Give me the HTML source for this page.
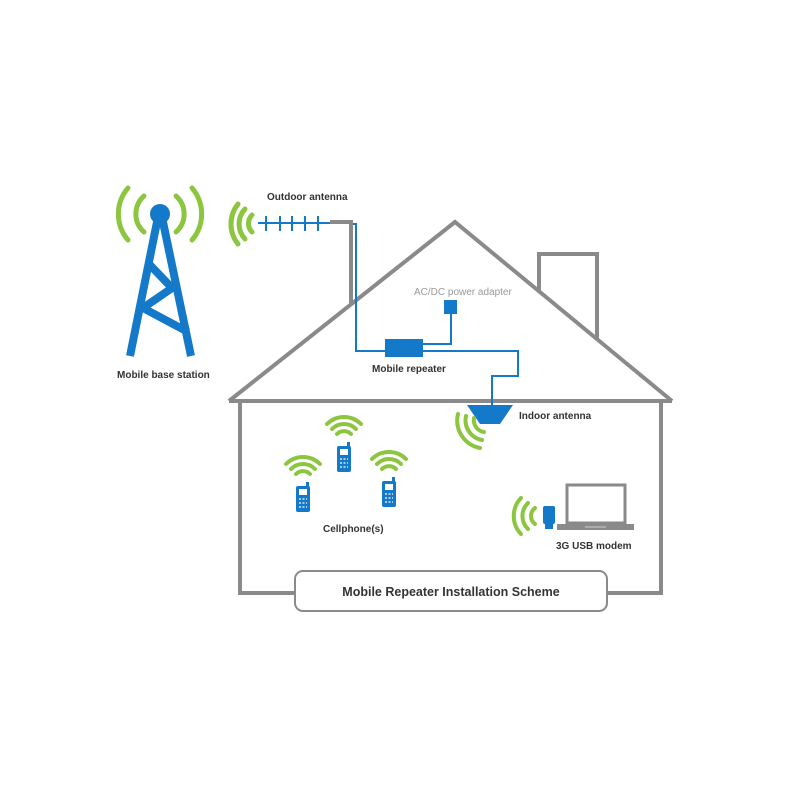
<!DOCTYPE html>
<html><head><style>
html,body{margin:0;padding:0;background:#fff;}
svg{display:block;font-family:"Liberation Sans",sans-serif;}
</style></head><body>
<svg width="800" height="800" viewBox="0 0 800 800" xmlns="http://www.w3.org/2000/svg">
<rect width="800" height="800" fill="#fff"/>
<!-- House -->
<g stroke="#8a8a8a" stroke-width="4" fill="none">
<polyline points="229,401 455,222 672,401"/>
<line x1="229" y1="401" x2="672" y2="401"/>
<polyline points="240,401 240,593 295,593"/>
<polyline points="607,593 661,593 661,401"/>
<polyline points="539,290 539,254 597,254 597,338"/>
<polyline points="330,222 351,222 351,303"/>
</g>
<!-- Tower -->
<g fill="none" stroke="#1479c9" stroke-width="8" stroke-linejoin="miter">
<line x1="157" y1="222" x2="130" y2="356"/>
<line x1="163" y1="222" x2="191" y2="356"/>
<polyline points="149,264 172,288 143,308 188,332"/>
</g>
<circle cx="160" cy="214" r="10" fill="#1479c9"/>
<!-- tower waves -->
<g fill="none" stroke="#8cc63f" stroke-width="5" stroke-linecap="round">
<path d="M144,196 A24,24 0 0 0 144,232"/>
<path d="M128,188 A40,40 0 0 0 128,240"/>
<path d="M176,196 A24,24 0 0 1 176,232"/>
<path d="M192,188 A40,40 0 0 1 192,240"/>
<!-- outdoor antenna waves -->
<path d="M252,215 A12,12 0 0 0 252,232"/>
<path d="M245,209 A22,22 0 0 0 245,239"/>
<path d="M238,204 A32,32 0 0 0 238,244"/>
</g>
<!-- outdoor antenna -->
<g stroke="#1479c9" stroke-width="2" fill="none">
<line x1="258" y1="223" x2="330" y2="223"/>
<line x1="266" y1="216" x2="266" y2="231"/>
<line x1="280" y1="216" x2="280" y2="231"/>
<line x1="292" y1="216" x2="292" y2="231"/>
<line x1="305" y1="216" x2="305" y2="231"/>
<line x1="318" y1="216" x2="318" y2="231"/>
<polyline points="353,224 356,224 356,351 385,351"/>
<polyline points="423,351 518,351 518,376 492,376 492,406"/>
<polyline points="451,314 451,344 423,344"/>
</g>
<rect x="385" y="339" width="38" height="18" fill="#1479c9"/>
<rect x="444" y="300" width="13" height="14" fill="#1479c9"/>
<polygon points="467,405 513,405 500,424 480,424" fill="#1479c9"/>
<!-- indoor waves -->
<g fill="none" stroke="#8cc63f" stroke-width="4" stroke-linecap="round">
<path d="M484,432 A12,12 0 0 1 474,418"/>
<path d="M482,440 A20,20 0 0 1 466,416"/>
<path d="M480,448 A28,28 0 0 1 458,414"/>
<!-- phone waves -->
<path d="M296,474 A10,10 0 0 1 310,474"/><path d="M291,469 A17,17 0 0 1 315,469"/><path d="M286,464 A24,24 0 0 1 320,464"/>
<path d="M337,434 A10,10 0 0 1 351,434"/><path d="M332,429 A17,17 0 0 1 356,429"/><path d="M327,424 A24,24 0 0 1 361,424"/>
<path d="M382,469 A10,10 0 0 1 396,469"/><path d="M377,464 A17,17 0 0 1 401,464"/><path d="M372,459 A24,24 0 0 1 406,459"/>
<!-- usb waves -->
<path d="M535,508 A10,10 0 0 0 535,524"/>
<path d="M528,503 A18,18 0 0 0 528,529"/>
<path d="M521,498 A26,26 0 0 0 521,534"/>
</g>
<!-- phones -->
<g fill="#1479c9">
<rect x="296" y="486" width="14" height="26" rx="2"/>
<rect x="337" y="446" width="14" height="26" rx="2"/>
<rect x="382" y="481" width="14" height="26" rx="2"/>
<rect x="306" y="482" width="3" height="5"/><rect x="347" y="442" width="3" height="5"/><rect x="392" y="477" width="3" height="5"/>
</g>
<g fill="#fff">
<rect x="299" y="489" width="8" height="6"/><rect x="340" y="449" width="8" height="6"/><rect x="385" y="484" width="8" height="6"/>
</g>
<g stroke="#fff" stroke-width="1.2" stroke-dasharray="2,1.5">
<line x1="299" y1="499" x2="307" y2="499"/><line x1="299" y1="503" x2="307" y2="503"/><line x1="299" y1="507" x2="307" y2="507"/>
<line x1="340" y1="459" x2="348" y2="459"/><line x1="340" y1="463" x2="348" y2="463"/><line x1="340" y1="467" x2="348" y2="467"/>
<line x1="385" y1="494" x2="393" y2="494"/><line x1="385" y1="498" x2="393" y2="498"/><line x1="385" y1="502" x2="393" y2="502"/>
</g>
<!-- usb + laptop -->
<rect x="543" y="506" width="12" height="18" rx="2" fill="#1479c9"/>
<rect x="545" y="524" width="8" height="5" fill="#1479c9"/>
<rect x="567" y="485" width="58" height="38" fill="none" stroke="#8a8a8a" stroke-width="3"/>
<rect x="557" y="524" width="77" height="6" fill="#8a8a8a"/>
<line x1="585" y1="527" x2="606" y2="527" stroke="#ccc" stroke-width="1"/>
<!-- label box -->
<rect x="295" y="571" width="312" height="40" rx="8" fill="#fff" stroke="#8a8a8a" stroke-width="2"/>
<!-- text -->
<g font-weight="bold" fill="#333" font-size="10">
<text x="267" y="200">Outdoor antenna</text>
<text x="117" y="378">Mobile base station</text>
<text x="372" y="372">Mobile repeater</text>
<text x="519" y="419">Indoor antenna</text>
<text x="323" y="532">Cellphone(s)</text>
<text x="556" y="549">3G USB modem</text>
<text x="451" y="596" font-size="12.5" text-anchor="middle">Mobile Repeater Installation Scheme</text>
</g>
<text x="414" y="295" font-size="10" fill="#999">AC/DC power adapter</text>
</svg>
</body></html>
